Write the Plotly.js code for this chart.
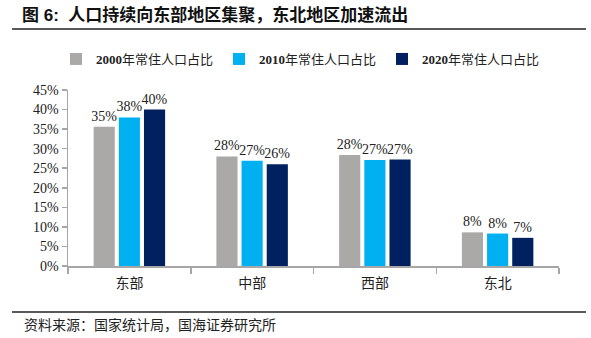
<!DOCTYPE html>
<html>
<head>
<meta charset="utf-8">
<script src="https://cdn.plot.ly/plotly-3.0.1.min.js"></script>
<style>html,body{margin:0;padding:0;background:#fff;}#chart{width:591px;height:338px;}</style>
</head>
<body>
<div id="chart"></div>
<script>
const categories = ['东部', '中部', '西部', '东北'];
const seriesNames = ['<b>2000</b>年常住人口占比', '<b>2010</b>年常住人口占比', '<b>2020</b>年常住人口占比'];
const share2000 = [35.6, 28.0, 28.4, 8.6];
const share2010 = [38.0, 26.9, 27.1, 8.3];
const share2020 = [40.0, 26.0, 27.2, 7.2];
const labels2000 = ['35%', '28%', '28%', '8%'];
const labels2010 = ['38%', '27%', '27%', '8%'];
const labels2020 = ['40%', '26%', '27%', '7%'];
const colors = ['#aba8a8', '#00b0f0', '#002060'];
const yTicks = [0, 5, 10, 15, 20, 25, 30, 35, 40, 45];

const serif = 'Liberation Serif, Noto Sans CJK SC, serif';
const values = [share2000, share2010, share2020];
const labels = [labels2000, labels2010, labels2020];

const traces = values.map((v, i) => ({
  type: 'bar',
  name: seriesNames[i],
  x: categories,
  y: v,
  text: labels[i],
  textposition: 'outside',
  textfont: {family: serif, size: 14, color: '#222'},
  constraintext: 'none',
  cliponaxis: false,
  marker: {color: colors[i]},
  hoverinfo: 'none'
}));

const L = 68, R = 559, T = 90, B = 266;
const W = R - L, H = B - T;
const px = x => (x - L) / W;
const py = y => (B - y) / H;

const layout = {
  width: 591, height: 338,
  margin: {l: L, r: 591 - R, t: T, b: 338 - B, pad: 0},
  paper_bgcolor: '#fff', plot_bgcolor: '#fff',
  barmode: 'group',
  bargap: 0.385,
  bargroupgap: 0.16,
  showlegend: true,
  font: {family: serif, size: 14, color: '#222'},
  title: {
    text: '图 6:  人口持续向东部地区集聚，东北地区加速流出',
    font: {family: 'Liberation Sans, Noto Sans CJK SC, sans-serif', size: 17, color: '#111', weight: 'bold'},
    xref: 'container', yref: 'container',
    x: 22 / 591, xanchor: 'left',
    y: 1 - 15 / 338, yanchor: 'middle'
  },
  legend: {
    orientation: 'h',
    xref: 'paper', yref: 'paper',
    x: px(56), xanchor: 'left',
    y: py(59), yanchor: 'middle',
    font: {family: serif, size: 13, color: '#222'},
    itemwidth: 30,
    entrywidth: 118,
    traceorder: 'normal'
  },
  xaxis: {
    type: 'category',
    showgrid: false,
    showline: true, linecolor: '#a6a6a6', linewidth: 1.5,
    ticks: 'outside', tickson: 'boundaries', ticklen: 6, tickcolor: '#a6a6a6', tickwidth: 1.5,
    ticklabelstandoff: 4,
    tickfont: {family: serif, size: 14, color: '#222'},
    fixedrange: true
  },
  yaxis: {
    range: [0, 45],
    tickvals: yTicks,
    ticktext: yTicks.map(t => t + '%'),
    showgrid: false, zeroline: false,
    showline: true, linecolor: '#a6a6a6', linewidth: 1.5,
    ticks: 'outside', ticklen: 5, tickcolor: '#a6a6a6', tickwidth: 1.5,
    tickfont: {family: serif, size: 14, color: '#222'},
    fixedrange: true
  },
  shapes: [
    {type: 'line', xref: 'paper', yref: 'paper', x0: px(12), x1: px(586), y0: py(29), y1: py(29), line: {color: '#222', width: 1.5}},
    {type: 'line', xref: 'paper', yref: 'paper', x0: px(12), x1: px(586), y0: py(312), y1: py(312), line: {color: '#222', width: 1.5}}
  ],
  annotations: [
    {text: '资料来源：国家统计局，国海证券研究所', xref: 'paper', yref: 'paper',
     x: px(22), y: py(324), xanchor: 'left', yanchor: 'middle', showarrow: false,
     font: {family: 'Noto Sans CJK SC, sans-serif', size: 14, color: '#222'}}
  ]
};

Plotly.newPlot('chart', traces, layout, {staticPlot: true, displayModeBar: false});
</script>
</body>
</html>
